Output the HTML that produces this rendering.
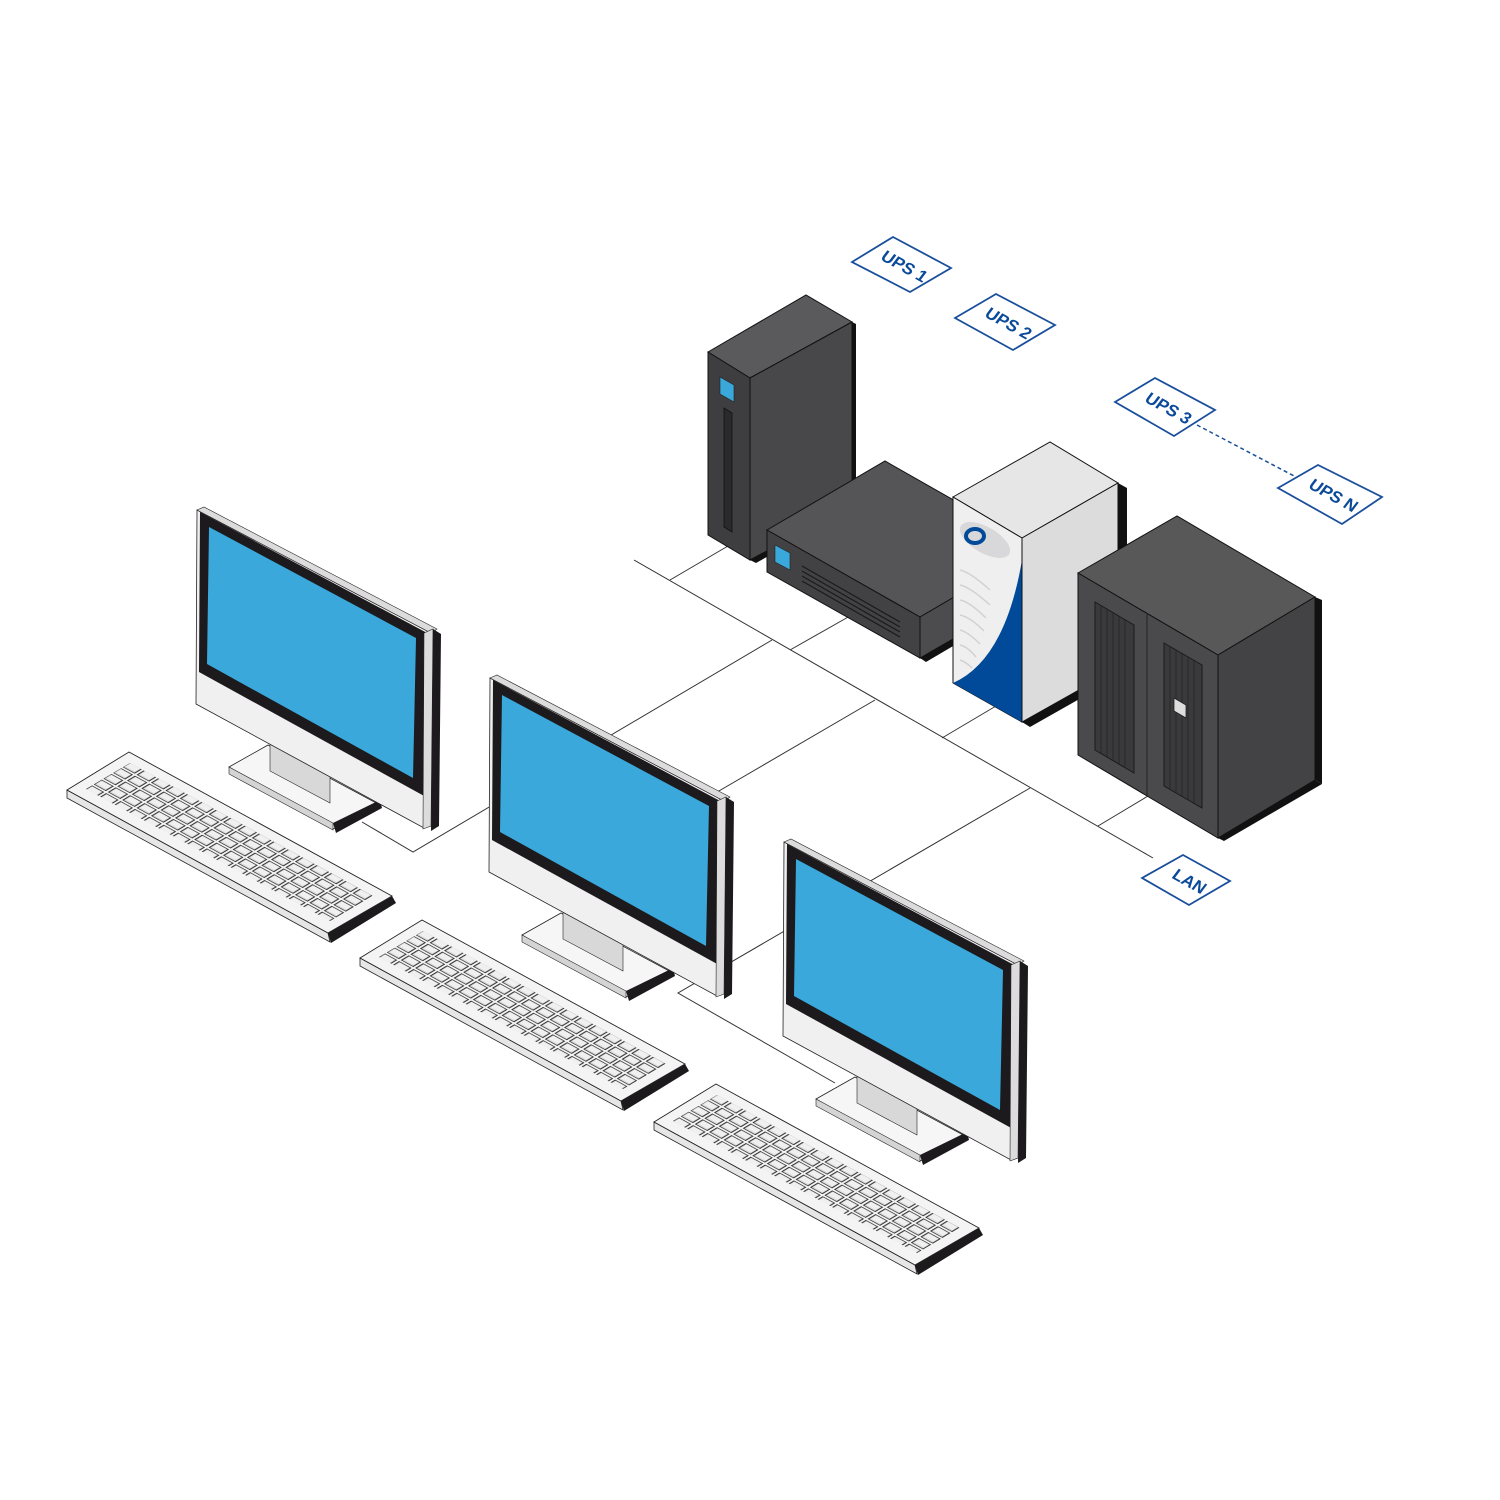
<!DOCTYPE html>
<html><head><meta charset="utf-8"><style>html,body{margin:0;padding:0;background:#fff}svg{display:block}</style></head>
<body>
<svg width="1500" height="1500" viewBox="0 0 1500 1500" xmlns="http://www.w3.org/2000/svg">
<defs>
<pattern id="keys" patternUnits="userSpaceOnUse" width="10" height="10" patternTransform="matrix(1.44 0.79 -0.96 0.58 130 761)">
<rect x="0" y="0" width="10" height="10" fill="#f4f4f4"/>
<rect x="1" y="1.2" width="8" height="7.6" fill="#dcdcdc" stroke="#2a2a2a" stroke-width="0.7"/>
<rect x="1.8" y="1.8" width="6.4" height="5.2" fill="#f0f0f0"/>
</pattern>
<g id="comp">
  <polygon points="67,790 328,933 330,942 67,798" fill="#e6e6e6" stroke="#222" stroke-width="0.8"/>
  <polygon points="328,933 392,896 396,903 331,943" fill="#1c1a1c"/>
  <polygon points="67,790 129,752 392,896 328,933" fill="#f4f4f4" stroke="#222" stroke-width="0.9"/>
  <polygon points="86,789 130,763 373,896 330,921" fill="url(#keys)"/>
  <polygon points="229,767 268,745 380,805 333,829" fill="#f6f6f6" stroke="#222" stroke-width="0.8"/>
  <polygon points="229,767 333,823 333,830 229,774" fill="#d4d4d4" stroke="#222" stroke-width="0.6"/>
  <polygon points="333,823 380,800 382,808 336,833" fill="#1c1a1c"/>
  <polygon points="270,742 330,774 330,803 270,771" fill="#d8d8d8" stroke="#222" stroke-width="0.6"/>
  <polygon points="197,510 431,633 424,828 196,704" fill="#f0f0f0" stroke="#222" stroke-width="0.8"/>
  <polygon points="197,510 204,507 437,629 431,633" fill="#dcdcdc" stroke="#222" stroke-width="0.6"/>
  <polygon points="200,512 429,634 426,797 199,672" fill="#1c1a1c"/>
  <polygon points="209,527 416,638 413,778 207,664" fill="#3aa8db"/>
  <polygon points="424,633 433,629 431,826 423,829" fill="#dcdcdc" stroke="#222" stroke-width="0.6"/>
  <polygon points="433,629 441,634 439,826 431,831" fill="#1c1a1c"/>
</g>
</defs>

<g stroke="#333" stroke-width="1" fill="none">
  <line x1="634" y1="560" x2="1153" y2="858"/>
  <line x1="670" y1="580" x2="728" y2="546"/>
  <line x1="790" y1="650" x2="850" y2="616"/>
  <line x1="942" y1="738" x2="996" y2="706"/>
  <line x1="1098" y1="826" x2="1148" y2="796"/>
  <polyline points="772,640 413,852 362,822"/>
  <line x1="875" y1="700" x2="700" y2="802"/>
  <polyline points="1030,788 678,993 835,1083"/>
</g>

<use href="#comp"/>
<use href="#comp" transform="translate(293,168)"/>
<use href="#comp" transform="translate(587,332)"/>

<polygon points="708,352 806,295 852,322 750,378" fill="#5a5a5c" stroke="#111" stroke-width="1"/>
<polygon points="708,352 750,378 750,560 708,535" fill="#3e3e40" stroke="#111" stroke-width="1"/>
<polygon points="750,378 852,322 852,505 750,560" fill="#48484a" stroke="#111" stroke-width="1"/>
<polygon points="852,322 856,324 856,507 852,505" fill="#111"/>
<polygon points="750,560 852,505 856,507 756,563" fill="#111"/>
<polygon points="720,377 734,385 734,402 720,394" fill="#3aa8db" stroke="#222" stroke-width="0.6"/>
<polygon points="724,408 732,413 732,532 724,527" fill="#2a2a2c" stroke="#111" stroke-width="0.8"/>

<polygon points="767,530 885,461 1038,548 920,617" fill="#555557" stroke="#111" stroke-width="1"/>
<polygon points="767,530 920,617 920,658 767,572" fill="#424244" stroke="#111" stroke-width="1"/>
<polygon points="920,617 1038,548 1038,590 920,658" fill="#4c4c4e" stroke="#111" stroke-width="1"/>
<polygon points="920,658 1038,590 1038,596 926,662" fill="#111"/>
<polygon points="775,545 790,553 790,570 775,562" fill="#3aa8db" stroke="#222" stroke-width="0.6"/>
<g stroke="#1a1a1a" stroke-width="1.2">
<line x1="802" y1="566" x2="900" y2="622"/><line x1="802" y1="571" x2="900" y2="627"/><line x1="802" y1="576" x2="900" y2="632"/><line x1="802" y1="581" x2="900" y2="637"/>
</g>

<polygon points="953,497 1050,442 1118,483 1022,538" fill="#e6e6e7" stroke="#111" stroke-width="1"/>
<polygon points="953,497 1022,538 1022,722 953,683" fill="#efefef" stroke="#111" stroke-width="1"/>
<path d="M953,683 Q1005,660 1022,560 L1022,722 Z" fill="#004a99"/>
<polygon points="1022,538 1118,483 1118,668 1022,722" fill="#dcdcdd" stroke="#111" stroke-width="1"/>
<polygon points="1118,483 1127,488 1127,672 1118,668" fill="#111"/>
<polygon points="1022,722 1118,668 1127,672 1030,727" fill="#111"/>
<ellipse cx="985" cy="540" rx="28" ry="13" transform="rotate(30 985 540)" fill="#d8d8da"/>
<ellipse cx="975" cy="536" rx="9" ry="7" fill="none" stroke="#004a99" stroke-width="4"/>
<g stroke="#d2d2d4" stroke-width="1.5" fill="none">
<path d="M960,570 q10,2 30,20"/><path d="M960,585 q10,2 30,20"/><path d="M960,600 q10,2 26,18"/><path d="M960,615 q10,2 24,16"/><path d="M960,630 q8,2 20,14"/><path d="M960,645 q8,2 16,12"/><path d="M960,660 q6,2 12,8"/>
</g>

<polygon points="1078,573 1177,516 1315,597 1218,655" fill="#585859" stroke="#111" stroke-width="1"/>
<polygon points="1078,573 1218,655 1218,838 1078,755" fill="#4a4a4c" stroke="#111" stroke-width="1"/>
<polygon points="1218,655 1315,597 1315,780 1218,838" fill="#434345" stroke="#111" stroke-width="1"/>
<polygon points="1315,597 1322,600 1322,784 1315,780" fill="#111"/>
<polygon points="1218,838 1315,780 1322,784 1224,841" fill="#111"/>
<line x1="1147" y1="613" x2="1147" y2="796" stroke="#222" stroke-width="1"/>
<polygon points="1095,602 1134,625 1134,773 1095,750" fill="#3a3a3c" stroke="#1a1a1a" stroke-width="1"/>
<polygon points="1164,643 1202,665 1202,808 1164,786" fill="#3a3a3c" stroke="#1a1a1a" stroke-width="1"/>
<g stroke="#222" stroke-width="0.7">
<line x1="1101" y1="605" x2="1101" y2="754"/><line x1="1107" y1="609" x2="1107" y2="757"/><line x1="1113" y1="612" x2="1113" y2="761"/><line x1="1119" y1="616" x2="1119" y2="764"/><line x1="1125" y1="619" x2="1125" y2="768"/>
<line x1="1170" y1="646" x2="1170" y2="790"/><line x1="1176" y1="650" x2="1176" y2="793"/><line x1="1182" y1="653" x2="1182" y2="797"/><line x1="1188" y1="657" x2="1188" y2="800"/><line x1="1194" y1="660" x2="1194" y2="804"/>
</g>
<polygon points="1174,698 1186,705 1186,718 1174,711" fill="#ddd" stroke="#222" stroke-width="0.8"/>

<g fill="#fff" stroke="#1a4f9c" stroke-width="1.8">
<polygon points="852,262 893,237 951,268 910,292"/>
<polygon points="955,318 996,294 1055,325 1013,350"/>
<polygon points="1115,402 1155,378 1215,410 1174,436"/>
<polygon points="1278,488 1318,465 1382,497 1342,524"/>
<polygon points="1142,878 1183,855 1230,881 1189,905"/>
</g>
<line x1="1197" y1="425" x2="1296" y2="477" stroke="#1a4f9c" stroke-width="1.5" stroke-dasharray="4,3"/>
<g font-family="Liberation Sans, sans-serif" font-weight="bold" font-size="17" fill="#0b4a9a" text-anchor="middle">
<text transform="matrix(0.875 0.484 -0.6 0.8 901 271)">UPS 1</text>
<text transform="matrix(0.875 0.484 -0.6 0.8 1005 328)">UPS 2</text>
<text transform="matrix(0.875 0.484 -0.6 0.8 1165 413)">UPS 3</text>
<text transform="matrix(0.875 0.484 -0.6 0.8 1330 500)">UPS N</text>
<text transform="matrix(0.875 0.484 -0.6 0.8 1186 886)">LAN</text>
</g>
</svg>
</body></html>
